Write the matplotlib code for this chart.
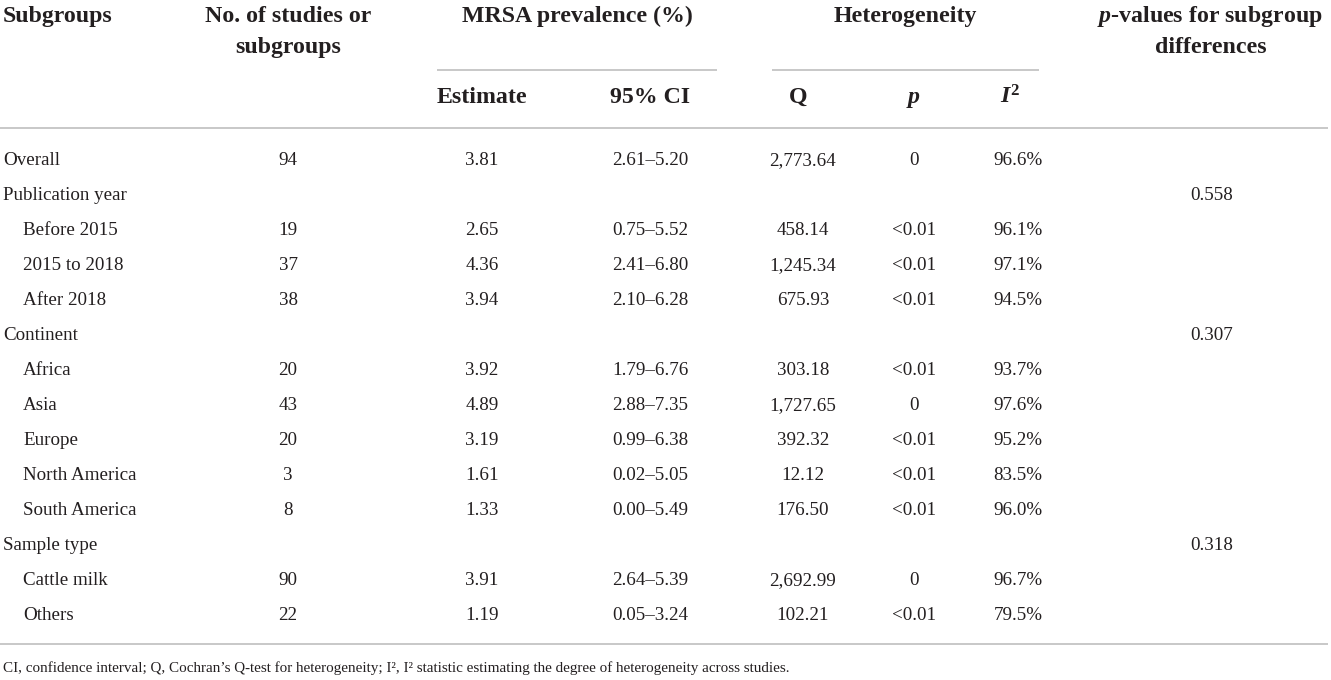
import matplotlib
matplotlib.use('Agg')
import matplotlib.pyplot as plt

plt.rcParams['font.family'] = ['Liberation Serif', 'DejaVu Serif']
plt.rcParams['mathtext.fontset'] = 'custom'
plt.rcParams['mathtext.rm'] = 'Liberation Serif:bold'
plt.rcParams['mathtext.it'] = 'Liberation Serif:italic:bold'
plt.rcParams['mathtext.bf'] = 'Liberation Serif:bold'

# table content
subgroups = ['Overall', 'Publication year', 'Before 2015', '2015 to 2018', 'After 2018',
             'Continent', 'Africa', 'Asia', 'Europe', 'North America', 'South America',
             'Sample type', 'Cattle milk', 'Others']
is_header = [True, True, False, False, False, True, False, False, False, False, False,
             True, False, False]
n_studies = ['94', '', '19', '37', '38', '', '20', '43', '20', '3', '8', '', '90', '22']
estimate = ['3.81', '', '2.65', '4.36', '3.94', '', '3.92', '4.89', '3.19', '1.61', '1.33',
            '', '3.91', '1.19']
ci95 = ['2.61–5.20', '', '0.75–5.52', '2.41–6.80', '2.10–6.28', '', '1.79–6.76',
        '2.88–7.35', '0.99–6.38', '0.02–5.05', '0.00–5.49', '', '2.64–5.39', '0.05–3.24']
q_stat = ['2,773.64', '', '458.14', '1,245.34', '675.93', '', '303.18', '1,727.65',
          '392.32', '12.12', '176.50', '', '2,692.99', '102.21']
p_het = ['0', '', '<0.01', '<0.01', '<0.01', '', '<0.01', '0', '<0.01', '<0.01', '<0.01',
         '', '0', '<0.01']
i2 = ['96.6%', '', '96.1%', '97.1%', '94.5%', '', '93.7%', '97.6%', '95.2%', '83.5%',
      '96.0%', '', '96.7%', '79.5%']
p_diff = ['', '0.558', '', '', '', '0.307', '', '', '', '', '', '0.318', '', '']

footnote = ('CI, confidence interval; Q, Cochran\u2019s Q-test for heterogeneity; '
            'I\u00b2, I\u00b2 statistic estimating the degree of heterogeneity across studies.')

W, H = 1331, 680
fig = plt.figure(figsize=(W / 100, H / 100), dpi=100)
ax = fig.add_axes([0, 0, 1, 1])
ax.set_xlim(0, W)
ax.set_ylim(H, 0)
ax.axis('off')

txt = '#231f20'
rule = '#c8c8c8'
fs_head = 17.2
fs_body = 13.7

# header
hkw = dict(fontsize=fs_head, fontweight='bold', color=txt, va='baseline')
ax.text(3, 22, 'Subgroups', ha='left', **hkw)
ax.text(288, 22, 'No. of studies or', ha='center', **hkw)
ax.text(288, 53, 'subgroups', ha='center', **hkw)
ax.text(577, 22, 'MRSA prevalence (%)', ha='center', **hkw)
ax.text(905, 22, 'Heterogeneity', ha='center', **hkw)
ax.text(1210, 22, '$p$-values for subgroup', ha='center', **hkw)
ax.text(1211, 53, 'differences', ha='center', **hkw)
ax.text(482, 103, 'Estimate', ha='center', **hkw)
ax.text(650, 103, '95% CI', ha='center', **hkw)
ax.text(798, 103, 'Q', ha='center', **hkw)
ax.text(913, 103, '$p$', ha='center', **hkw)
ax.text(1010, 103, '$I^2$', ha='center', **hkw)

# rules
ax.plot([437, 717], [70, 70], color=rule, lw=1.4, solid_capstyle='butt')
ax.plot([772, 1039], [70, 70], color=rule, lw=1.4, solid_capstyle='butt')
ax.plot([0, 1328], [128, 128], color=rule, lw=1.4, solid_capstyle='butt')
ax.plot([0, 1328], [644, 644], color=rule, lw=1.4, solid_capstyle='butt')

# body rows
bkw = dict(fontsize=fs_body, color=txt, va='baseline')
cols = [(288, n_studies), (482, estimate), (650, ci95), (803, q_stat),
        (914, p_het), (1018, i2), (1212, p_diff)]
for i, name in enumerate(subgroups):
    y = 165 + 35 * i
    ax.text(3 if is_header[i] else 23, y, name, ha='left', **bkw)
    for x, vals in cols:
        if vals[i]:
            ax.text(x, y, vals[i], ha='center', **bkw)

ax.text(3, 672, footnote, ha='left', fontsize=10.9, color=txt, va='baseline')

fig.savefig('out.png', dpi=100)
